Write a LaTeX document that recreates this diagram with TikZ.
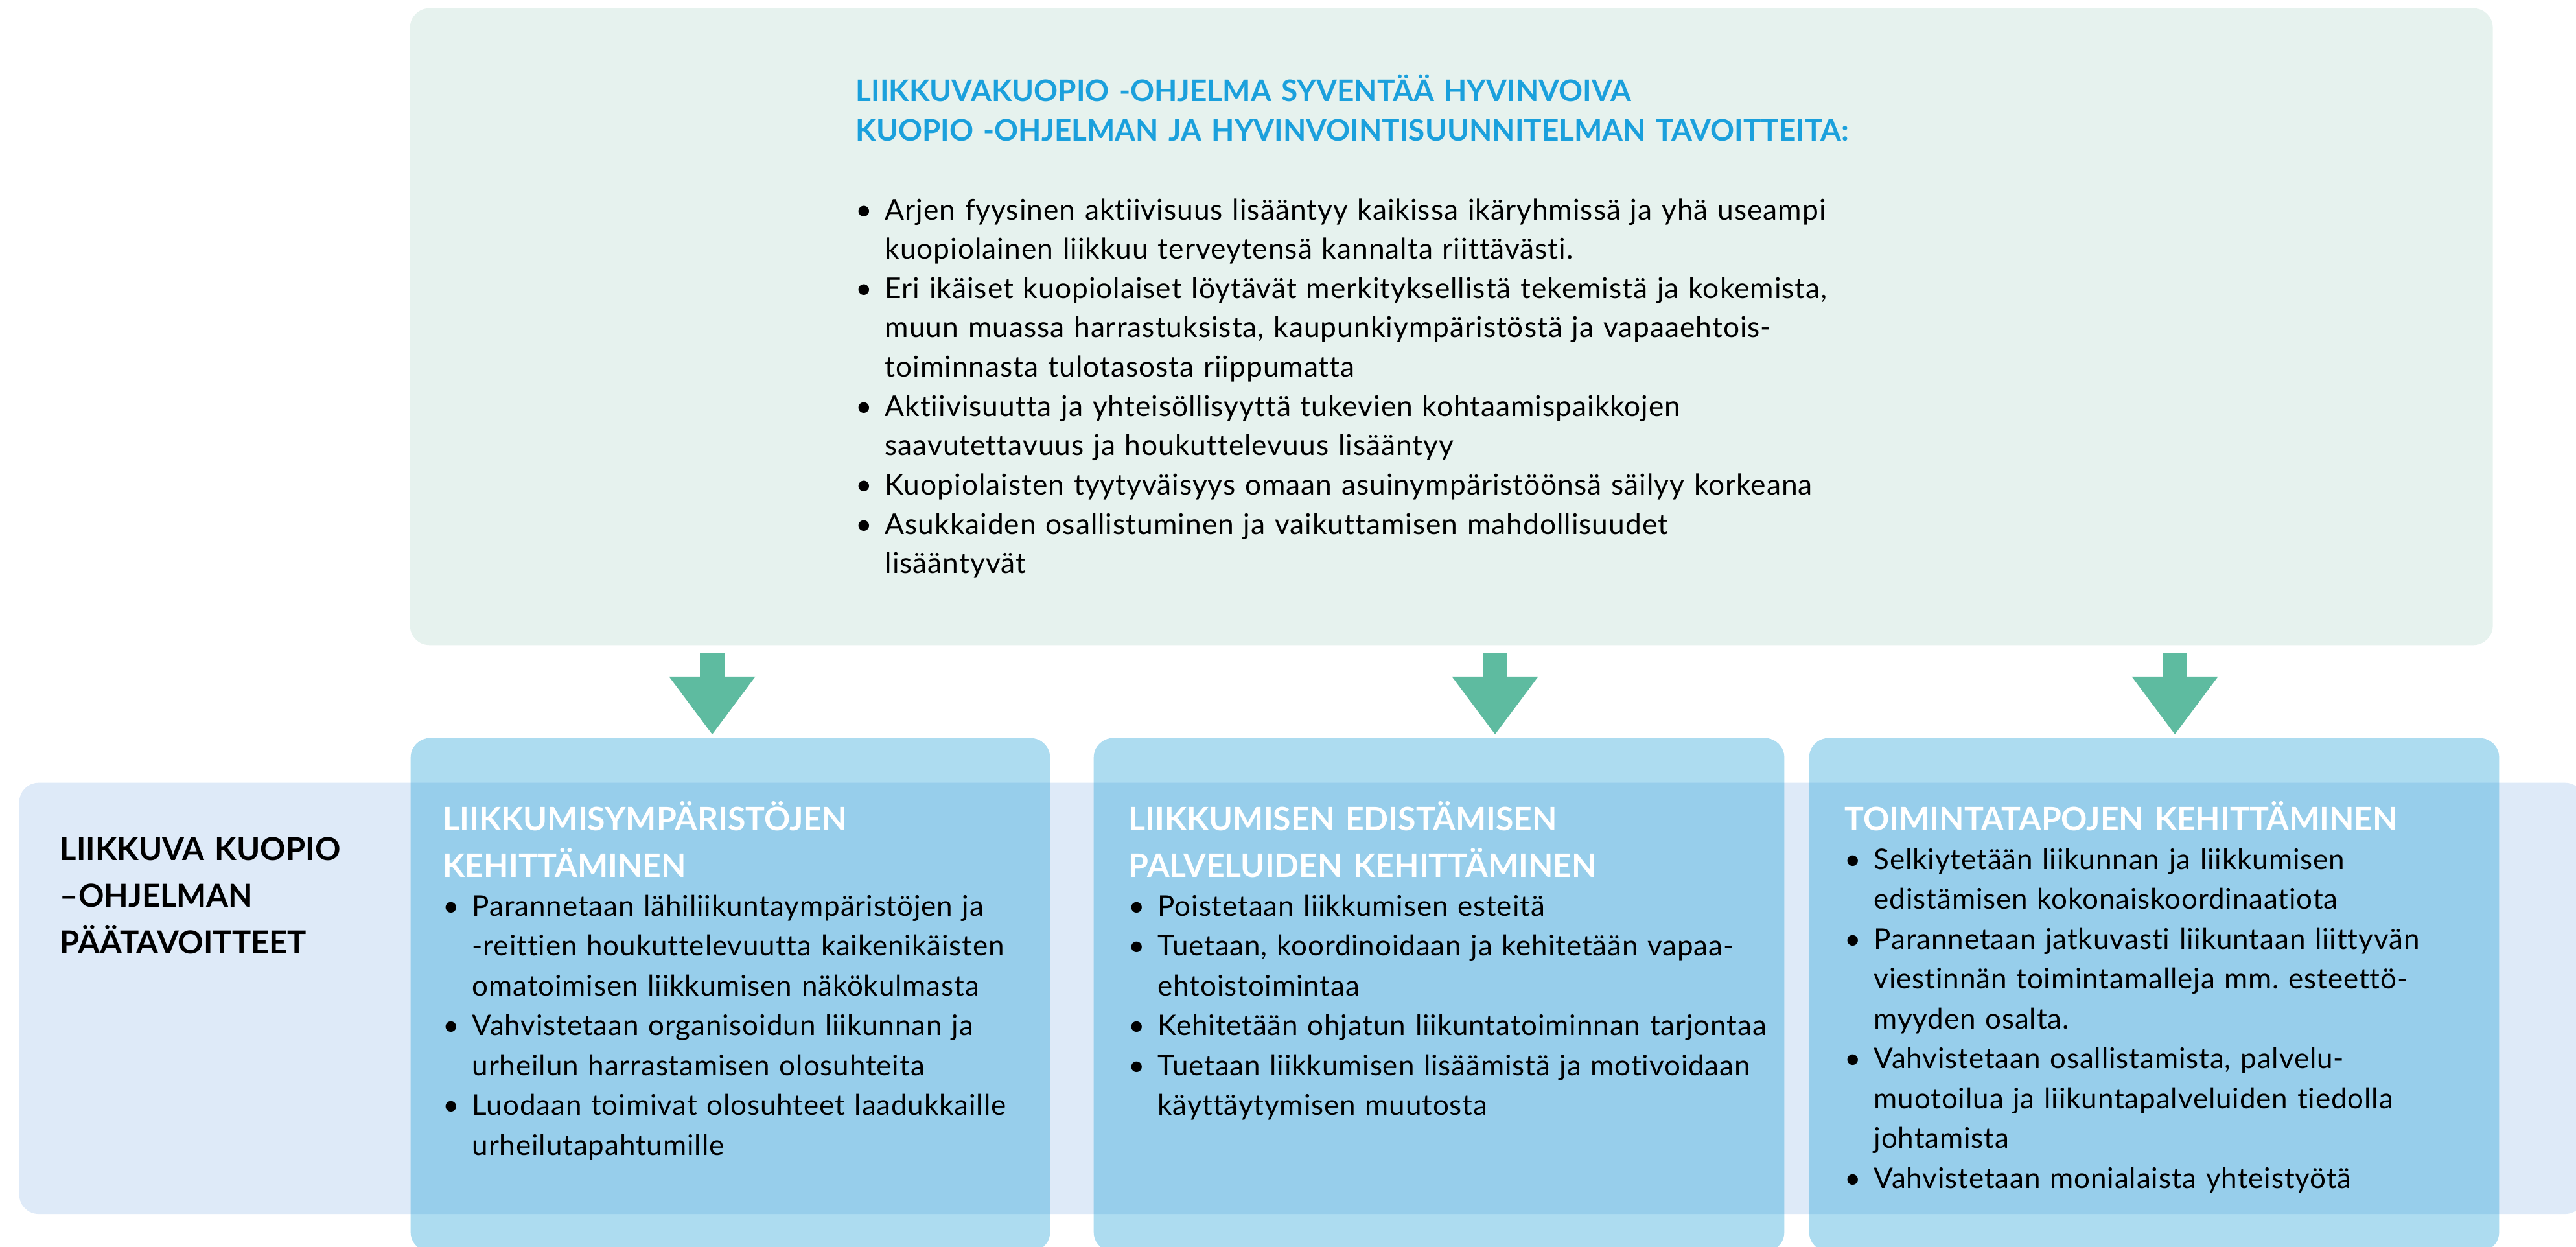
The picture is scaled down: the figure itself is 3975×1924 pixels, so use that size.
\documentclass[tikz,border=0pt]{standalone}
\usepackage{fontspec}
\setmainfont{Lato}[Ligatures=CommonOff]
\usetikzlibrary{arrows.meta, positioning}
\frenchspacing

\definecolor{goalbg}{RGB}{230,242,238}
\definecolor{bandbg}{RGB}{222,234,248}
\definecolor{colblue}{RGB}{27,157,214}
\definecolor{titleblue}{RGB}{27,160,220}
\definecolor{arrowgreen}{RGB}{94,187,160}

\newlength{\bulind}
\setlength{\bulind}{0.45cm}
\newcommand{\bitem}[1]{\hangindent=\bulind\hangafter=1\noindent\hbox to \bulind{\textbullet\hfil}#1\par}

\begin{document}
\begin{tikzpicture}[
    x=0.01cm, y=-0.01cm,
    goalbox/.style={rectangle, fill=goalbg, rounded corners=0.3cm, anchor=north west, inner sep=0pt},
    bandbox/.style={rectangle, fill=bandbg, rounded corners=0.3cm, anchor=north west, inner sep=0pt},
    colbox/.style={rectangle, fill=colblue, fill opacity=0.36, rounded corners=0.3cm, anchor=north west, inner sep=0pt, minimum height=7.92cm},
    titletext/.style={anchor=base west, inner sep=0pt, text width=17cm, text=titleblue, font=\fontsize{13.05pt}{17.35pt}\selectfont\bfseries},
    headtext/.style={anchor=base west, inner sep=0pt, text width=9.6cm, text=white, font=\fontsize{14.2pt}{20.5pt}\selectfont\bfseries},
    labeltext/.style={anchor=base west, inner sep=0pt, text width=5cm, font=\fontsize{13.9pt}{20.6pt}\selectfont\bfseries},
    listtext/.style={anchor=base west, inner sep=0pt, text width=9.8cm, font=\fontsize{12.5pt}{17.5pt}\selectfont\addfontfeatures{LetterSpace=2}},
    flow/.style={line width=0.38cm, draw=arrowgreen, -{Triangle[width=1.33cm, length=0.89cm, line width=0pt]}, shorten <=0.12cm, shorten >=0.05cm}
]
\useasboundingbox (0,0) rectangle (3975,1924);

% tavoitteet
\node[goalbox, minimum width=32.12cm, minimum height=9.82cm] (goals) at (632,12) {};
\node[titletext] (goals-title) at ([shift={(688,144)}]goals.north west) {LIIKKUVAKUOPIO -OHJELMA SYVENTÄÄ HYVINVOIVA\newline KUOPIO -OHJELMAN JA HYVINVOINTISUUNNITELMAN TAVOITTEITA:};
\node[listtext, text width=17cm, font=\fontsize{12.6pt}{17.25pt}\selectfont\addfontfeatures{LetterSpace=2.2}] (goals-list) at ([shift={(688,327)}]goals.north west) {%
\bitem{Arjen fyysinen aktiivisuus lisääntyy kaikissa ikäryhmissä ja yhä useampi\newline kuopiolainen liikkuu terveytensä kannalta riittävästi.}
\bitem{Eri ikäiset kuopiolaiset löytävät merkityksellistä tekemistä ja kokemista,\newline muun muassa harrastuksista, kaupunkiympäristöstä ja vapaaehtois-\newline toiminnasta tulotasosta riippumatta}
\bitem{Aktiivisuutta ja yhteisöllisyyttä tukevien kohtaamispaikkojen\newline saavutettavuus ja houkuttelevuus lisääntyy}
\bitem{Kuopiolaisten tyytyväisyys omaan asuinympäristöönsä säilyy korkeana}
\bitem{Asukkaiden osallistuminen ja vaikuttamisen mahdollisuudet\newline lisääntyvät}};

% päätavoitteet
\node[bandbox, minimum width=39.56cm, minimum height=6.65cm] (band) at (29,1207) {};
\node[labeltext] (band-label) at ([shift={(63,120)}]band.north west) {LIIKKUVA KUOPIO\newline –OHJELMAN\newline PÄÄTAVOITTEET};

% sarakkeet
\node[colbox, minimum width=9.86cm] (col1) at (633,1138) {};
\node[colbox, minimum width=10.65cm] (col2) at (1687,1138) {};
\node[colbox, minimum width=10.64cm] (col3) at (2791,1138) {};

% nuolet
\coordinate (arr1) at (1099,0);
\coordinate (arr2) at (2307,0);
\coordinate (arr3) at (3356,0);
\draw[flow] (arr1 |- goals.south) -- (arr1 |- col1.north);
\draw[flow] (arr2 |- goals.south) -- (arr2 |- col2.north);
\draw[flow] (arr3 |- goals.south) -- (arr3 |- col3.north);

% liikkumisympäristöt
\node[headtext] (col1-head) at ([shift={(50,143)}]col1.north west) {LIIKKUMISYMPÄRISTÖJEN\newline KEHITTÄMINEN};
\node[listtext] (col1-list) at ([shift={(50,275)}]col1.north west) {%
\bitem{Parannetaan lähiliikuntaympäristöjen ja\newline -reittien houkuttelevuutta kaikenikäisten\newline omatoimisen liikkumisen näkökulmasta}
\bitem{Vahvistetaan organisoidun liikunnan ja\newline urheilun harrastamisen olosuhteita}
\bitem{Luodaan toimivat olosuhteet laadukkaille\newline urheilutapahtumille}};

% palvelut
\node[headtext] (col2-head) at ([shift={(54,143)}]col2.north west) {LIIKKUMISEN EDISTÄMISEN\newline PALVELUIDEN KEHITTÄMINEN};
\node[listtext] (col2-list) at ([shift={(54,275)}]col2.north west) {%
\bitem{Poistetaan liikkumisen esteitä}
\bitem{Tuetaan, koordinoidaan ja kehitetään vapaa-\newline ehtoistoimintaa}
\bitem{Kehitetään ohjatun liikuntatoiminnan tarjontaa}
\bitem{Tuetaan liikkumisen lisäämistä ja motivoidaan\newline käyttäytymisen muutosta}};

% toimintatavat
\node[headtext] (col3-head) at ([shift={(55,143)}]col3.north west) {TOIMINTATAPOJEN KEHITTÄMINEN};
\node[listtext] (col3-list) at ([shift={(55,203)}]col3.north west) {%
\bitem{Selkiytetään liikunnan ja liikkumisen\newline edistämisen kokonaiskoordinaatiota}
\bitem{Parannetaan jatkuvasti liikuntaan liittyvän\newline viestinnän toimintamalleja mm. esteettö-\newline myyden osalta.}
\bitem{Vahvistetaan osallistamista, palvelu-\newline muotoilua ja liikuntapalveluiden tiedolla\newline johtamista}
\bitem{Vahvistetaan monialaista yhteistyötä}};
\end{tikzpicture}
\end{document}
